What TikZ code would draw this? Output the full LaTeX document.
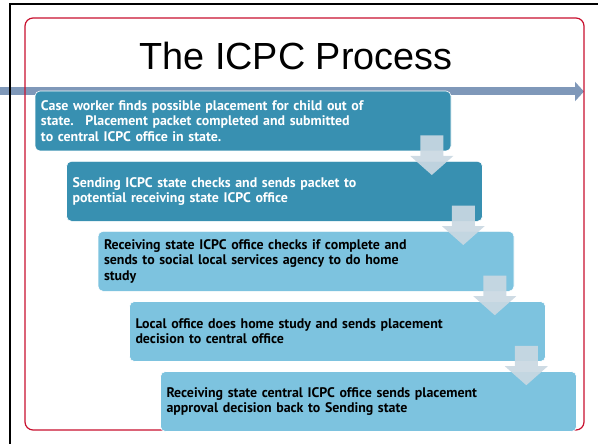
\documentclass[tikz,border=0pt]{standalone}
\usepackage{fontspec}
\setmainfont{Liberation Sans}
\newfontfamily\stepfont{PT Sans}
\usetikzlibrary{calc}
\usetikzlibrary{arrows.meta}
\definecolor{darkstep}{HTML}{3890B1}
\definecolor{lightstep}{HTML}{7DC3DF}
\definecolor{timeline}{HTML}{7F98B9}
\definecolor{downfill}{HTML}{CAD8E2}
\definecolor{framered}{HTML}{C8102E}
\tikzset{stepbox/.style = {draw=white, line width=0.6pt, rounded corners=5pt,
    text width=404pt, inner xsep=6pt, inner ysep=0pt, minimum height=60pt,
    align=left, font=\stepfont\bfseries\fontsize{13.9}{15.2}\selectfont}}
\tikzset{darkbox/.style = {stepbox, fill=darkstep, text=white}}
\tikzset{lightbox/.style = {stepbox, fill=lightstep, text=black}}
\tikzset{flowarrow/.style = {fill=downfill, opacity=0.92}}

\begin{document}
\begin{tikzpicture}[x=1pt,y=-1pt]
            \useasboundingbox (0,0) rectangle (598,444);

            % Timeline
            \coordinate (tl0) at (0,91.5);
            \coordinate (tl1) at (584,91.5);
            \draw[timeline, line width=8pt, -{Triangle[length=9pt,width=19pt]}] (tl0) -- (tl1);

            % Frames
            \draw[framered, line width=1.2pt, rounded corners=8pt] (25,18) rectangle (584,430);
            \draw[black, line width=2.4pt] (10,444) -- (10,4) -- (598,4);

            % Title
            \node[font=\fontsize{37.8}{42}\selectfont] (title) at (296,56) {The ICPC Process};

            % Steps
            \node[darkbox] (box1) at (243,121) {Case worker finds possible placement for child out of\\
                state.~ Placement packet completed and submitted\\
                to central ICPC office in state.};
            \node[darkbox] (box2) at (274.5,191.3) {Sending ICPC state checks and sends packet to\\
                potential receiving state ICPC office};
            \node[lightbox] (box3) at (306,261.3) {Receiving state ICPC office checks if complete and\\
                sends to social local services agency to do home\\
                study};
            \node[lightbox] (box4) at (337.5,331.5) {Local office does home study and sends placement\\
                decision to central office};
            \node[lightbox] (box5) at (368.5,401.5) {Receiving state central ICPC office sends placement\\
                approval decision back to Sending state};

            % Down arrows
            \foreach \a/\b in {box1/box2,box2/box3,box3/box4,box4/box5}{
                \fill[flowarrow] ($(\a.south east)+(-31,-16)$)
                    -- ($(\a.south east |- \b.north)+(-31,-5)$) -- ++(-10,0)
                    -- ($(\a.south east |- \b.north)+(-19.5,14)$)
                    -- ($(\a.south east |- \b.north)+(2,-5)$) -- ++(-10,0)
                    -- ($(\a.south east)+(-8,-16)$) -- cycle;
            }
        \end{tikzpicture}
\end{document}
